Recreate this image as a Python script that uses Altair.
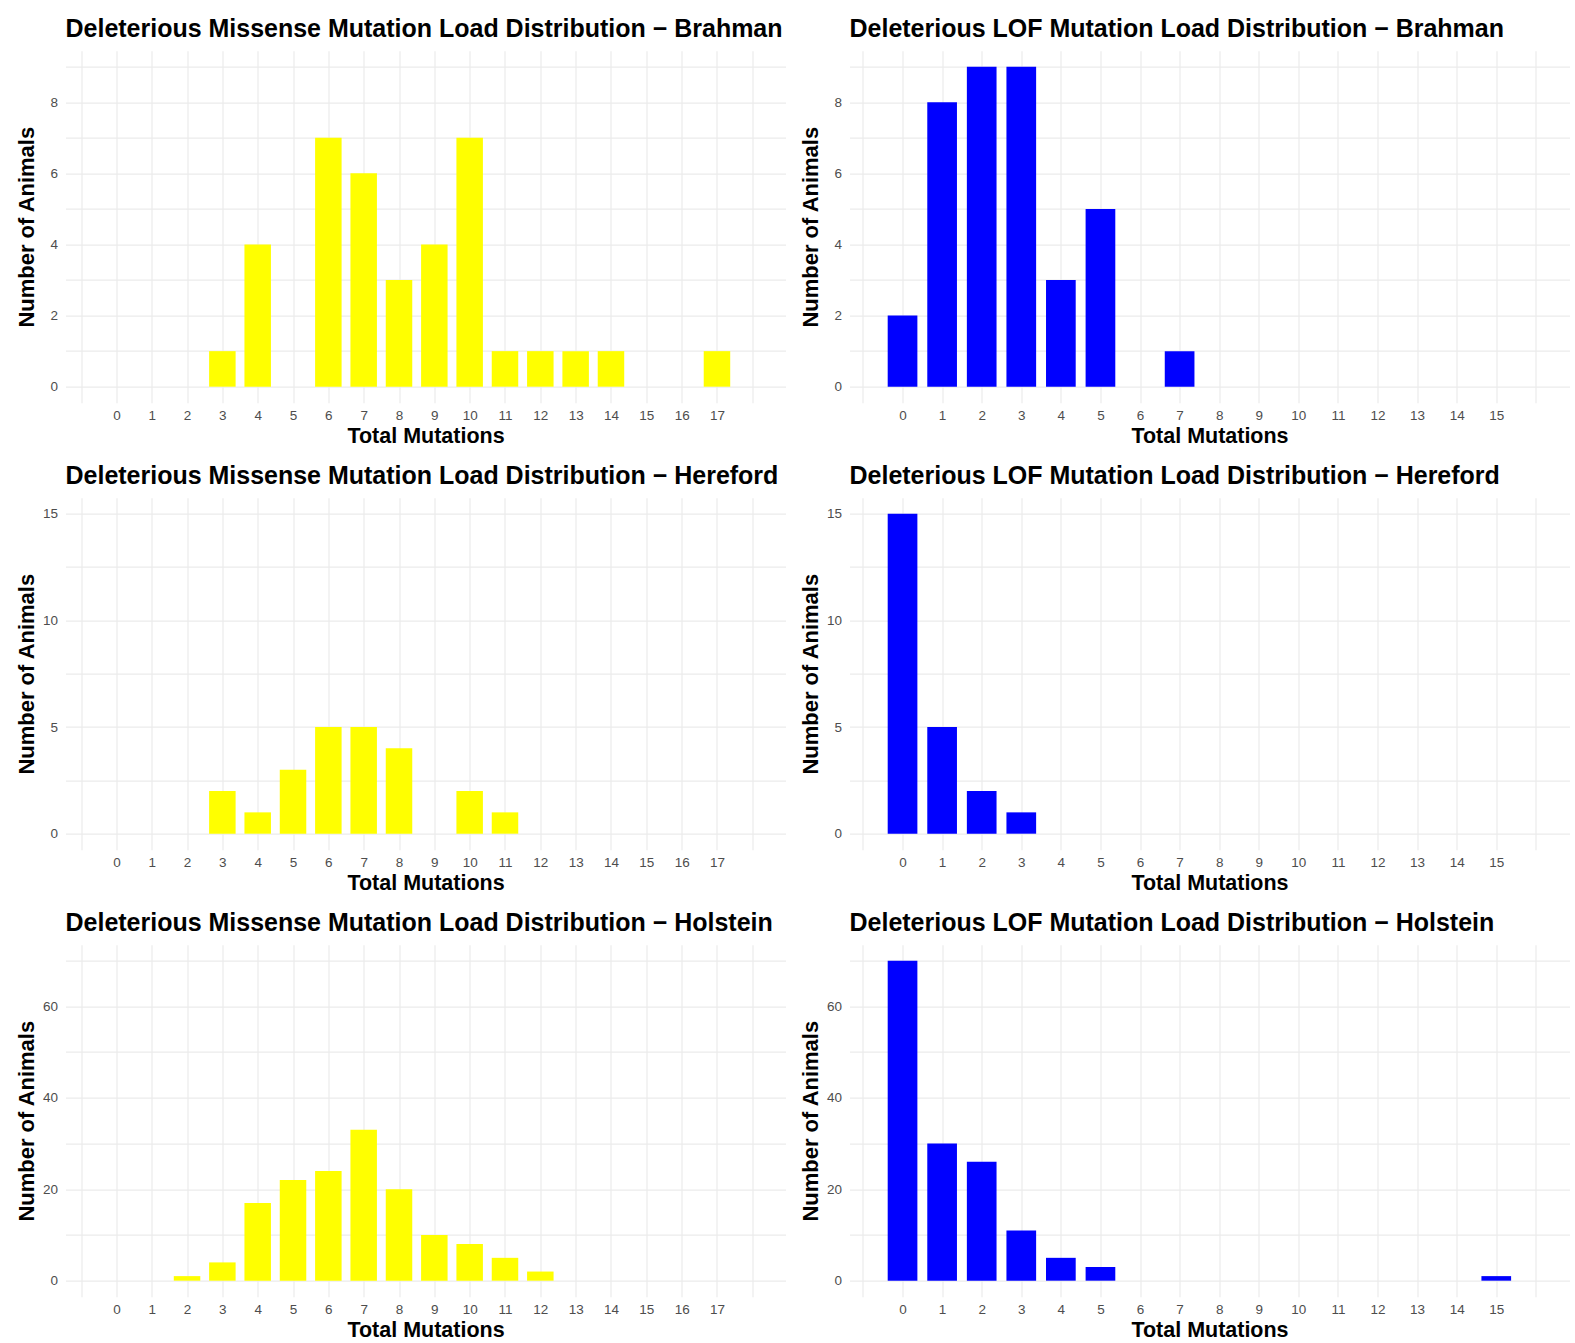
import altair as alt
import pandas as pd

# Number of animals carrying each total count of deleterious mutations
brahman_missense_x = [3, 4, 6, 7, 8, 9, 10, 11, 12, 13, 14, 17]
brahman_missense_n = [1, 4, 7, 6, 3, 4, 7, 1, 1, 1, 1, 1]
brahman_lof_x = [0, 1, 2, 3, 4, 5, 7]
brahman_lof_n = [2, 8, 9, 9, 3, 5, 1]

hereford_missense_x = [3, 4, 5, 6, 7, 8, 10, 11]
hereford_missense_n = [2, 1, 3, 5, 5, 4, 2, 1]
hereford_lof_x = [0, 1, 2, 3]
hereford_lof_n = [15, 5, 2, 1]

holstein_missense_x = [2, 3, 4, 5, 6, 7, 8, 9, 10, 11, 12]
holstein_missense_n = [1, 4, 17, 22, 24, 33, 20, 10, 8, 5, 2]
holstein_lof_x = [0, 1, 2, 3, 4, 5, 15]
holstein_lof_n = [70, 30, 26, 11, 5, 3, 1]

MISSENSE_COLOR = "#FFFF00"
LOF_COLOR = "#0000FF"
FONT = "Liberation Sans"
BAR_HALF = 0.375
W, H = 720, 352


def panel(xs, ns, title, color, last_label, x_domain, y_domain, y_step, y_label_step):
    df = pd.DataFrame({"mutations": xs, "animals": ns})
    x_grid = [v / 2 for v in range(-2, 2 * (last_label + 1) + 1)]
    y_grid = []
    v = 0.0
    while v <= y_domain[1]:
        y_grid.append(v)
        v += y_step
    x_axis = alt.Axis(
        values=x_grid,
        format="d",
        labelExpr=(f"(datum.value % 1 == 0 && datum.value >= 0 && datum.value <= {last_label})"
                   " ? datum.label : ''"),
        title="Total Mutations",
        titleFontSize=21.5,
        titleFontWeight="bold",
        titleColor="black",
        titleFont=FONT,
        titleBaseline="alphabetic",
        titleY=40,
        labelFont=FONT,
        labelFontSize=13.5,
        labelColor="#4d4d4d",
        labelPadding=6,
        labelOverlap=False,
        labelFlush=False,
        ticks=False,
        tickSize=0,
        domain=False,
        grid=True,
        gridColor="#ebebeb",
        gridWidth=1.2,
    )
    y_axis = alt.Axis(
        values=y_grid,
        format="d",
        labelExpr=f"(datum.value % {y_label_step} == 0) ? datum.label : ''",
        title="Number of Animals",
        titleFontSize=22,
        titleFontWeight="bold",
        titleColor="black",
        titleFont=FONT,
        titleBaseline="middle",
        titleX=-39,
        titleY=H / 2,
        labelFont=FONT,
        labelFontSize=13.5,
        labelColor="#4d4d4d",
        labelPadding=8,
        labelOverlap=False,
        ticks=False,
        tickSize=0,
        domain=False,
        grid=True,
        gridColor="#ebebeb",
        gridWidth=1.2,
    )
    return (
        alt.Chart(df, title=alt.TitleParams(
            text=title, anchor="start", frame="group", font=FONT, fontSize=25,
            fontWeight="bold", color="black", baseline="alphabetic", offset=-11))
        .transform_calculate(lo=f"datum.mutations - {BAR_HALF}",
                             hi=f"datum.mutations + {BAR_HALF}",
                             base="0")
        .mark_bar(color=color)
        .encode(
            x=alt.X("lo:Q", scale=alt.Scale(domain=x_domain, nice=False, zero=False), axis=x_axis),
            x2="hi:Q",
            y=alt.Y("animals:Q", scale=alt.Scale(domain=y_domain, nice=False, zero=False), axis=y_axis),
            y2="base:Q",
        )
        .properties(width=W, height=H)
    )


MIS_DOM = [-1.44, 18.94]
LOF_DOM = [-1.34, 16.85]

rows = [
    ("Brahman", brahman_missense_x, brahman_missense_n, brahman_lof_x, brahman_lof_n, [-0.45, 9.45], 1, 2),
    ("Hereford", hereford_missense_x, hereford_missense_n, hereford_lof_x, hereford_lof_n, [-0.75, 15.75], 2.5, 5),
    ("Holstein", holstein_missense_x, holstein_missense_n, holstein_lof_x, holstein_lof_n, [-3.5, 73.5], 10, 20),
]

row_charts = []
for breed, mx, mn, lx, ln, ydom, ystep, ylab in rows:
    left = panel(mx, mn, f"Deleterious Missense Mutation Load Distribution \u2212 {breed}",
                 MISSENSE_COLOR, 17, MIS_DOM, ydom, ystep, ylab)
    right = panel(lx, ln, f"Deleterious LOF Mutation Load Distribution \u2212 {breed}",
                  LOF_COLOR, 15, LOF_DOM, ydom, ystep, ylab)
    row_charts.append(alt.hconcat(left, right, spacing=14))

chart = (
    alt.vconcat(*row_charts, spacing=16)
    .properties(padding={"left": 15.5, "top": 16.7, "right": 0, "bottom": 0}, background="white")
    .configure_view(stroke=None)
)

chart.save("out.html", embed_options={"renderer": "svg", "actions": False})
